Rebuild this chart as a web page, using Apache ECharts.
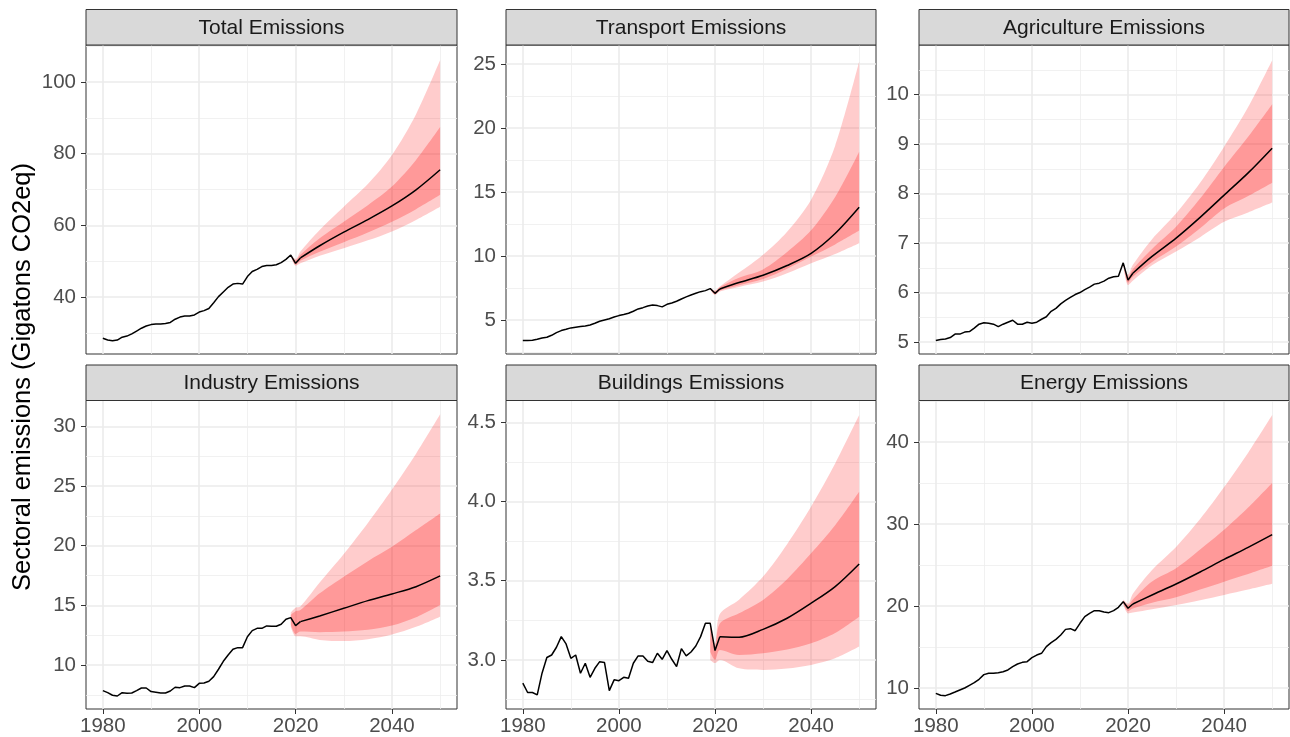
<!DOCTYPE html>
<html>
<head>
<meta charset="utf-8">
<title>Sectoral emissions forecasts</title>
<script src="https://cdn.jsdelivr.net/npm/echarts@6/dist/echarts.min.js"></script>
<style>
  html, body { margin: 0; padding: 0; background: #ffffff; }
  #chart { width: 1290px; height: 737px; }
</style>
</head>
<body>
<div id="chart"></div>
<script>
// ---------------------------------------------------------------------------
// Data: observed series 1980-2021, forecast mean and 80% / 95% intervals
// ---------------------------------------------------------------------------
const HIST_START = 1980;
const FC_YEARS = [2021, 2025, 2030, 2035, 2040, 2045, 2050];
const BAND_YEARS = [2019, 2020, 2021, 2025, 2030, 2035, 2040, 2045, 2050];
const X_TICKS = [1980, 2000, 2020, 2040];
const X_MINOR = [1990, 2010, 2030, 2050];

const PANEL_TITLES = ['Total Emissions', 'Transport Emissions', 'Agriculture Emissions',
                      'Industry Emissions', 'Buildings Emissions', 'Energy Emissions'];
const Y_TITLE = 'Sectoral emissions (Gigatons CO2eq)';

// Total
const totalHist = [28.5, 28.0, 27.8, 28.0, 28.8, 29.1, 29.7, 30.5, 31.3, 31.9,
                   32.3, 32.5, 32.5, 32.6, 32.9, 33.8, 34.4, 34.7, 34.7, 35.0,
                   35.8, 36.2, 36.8, 38.4, 40.1, 41.4, 42.7, 43.6, 43.8, 43.6,
                   45.7, 47.1, 47.7, 48.5, 48.8, 48.8, 49.0, 49.6, 50.5, 51.7,
                   49.4, 50.9];
const totalMean = [50.9, 54.3, 58.1, 61.6, 65.4, 69.9, 75.5];
const totalHi95 = [51.7, 50.6, 52.7, 58.7, 65.2, 71.5, 79.6, 91.0, 106.1];
const totalHi80 = [51.7, 50.2, 51.8, 56.4, 61.0, 65.6, 70.8, 78.2, 87.4];
const totalLo80 = [51.7, 49.0, 50.1, 52.6, 55.3, 58.0, 61.0, 64.5, 68.5];
const totalLo95 = [51.7, 48.7, 49.4, 51.5, 53.6, 55.8, 58.3, 61.5, 65.2];
const totalTicks = [40, 60, 80, 100];
const totalMinor = [30, 50, 70, 90, 110];

// Transport
const transportHist = [3.39, 3.39, 3.41, 3.49, 3.59, 3.65, 3.80, 4.01, 4.17, 4.27,
                       4.38, 4.43, 4.48, 4.53, 4.61, 4.74, 4.90, 5.00, 5.10, 5.23,
                       5.34, 5.42, 5.52, 5.68, 5.86, 5.96, 6.09, 6.17, 6.12, 6.02,
                       6.22, 6.33, 6.46, 6.64, 6.80, 6.95, 7.08, 7.21, 7.29, 7.45,
                       7.08, 7.42];
const transportMean = [7.42, 7.92, 8.49, 9.25, 10.2, 11.75, 13.8];
const transportHi95 = [7.50, 7.30, 7.62, 8.70, 10.10, 11.90, 14.40, 18.6, 25.2];
const transportHi80 = [7.48, 7.22, 7.55, 8.30, 8.95, 10.30, 12.00, 14.6, 18.15];
const transportLo80 = [7.42, 7.00, 7.30, 7.72, 8.20, 9.00, 9.95, 10.9, 11.98];
const transportLo95 = [7.40, 6.95, 7.22, 7.58, 8.00, 8.65, 9.43, 10.15, 10.99];
const transportTicks = [5, 10, 15, 20, 25];
const transportMinor = [2.5, 7.5, 12.5, 17.5, 22.5];

// Agriculture
const agriHist = [5.03, 5.05, 5.06, 5.09, 5.16, 5.16, 5.20, 5.21, 5.28, 5.36,
                  5.39, 5.38, 5.36, 5.31, 5.36, 5.40, 5.44, 5.36, 5.36, 5.40,
                  5.38, 5.40, 5.46, 5.51, 5.62, 5.68, 5.77, 5.84, 5.90, 5.96,
                  6.00, 6.06, 6.11, 6.17, 6.19, 6.23, 6.29, 6.32, 6.33, 6.60,
                  6.25, 6.39];
const agriMean = [6.39, 6.73, 7.10, 7.52, 7.97, 8.42, 8.92];
const agriHi95 = [6.62, 6.36, 6.56, 7.08, 7.60, 8.22, 8.95, 9.75, 10.70];
const agriHi80 = [6.61, 6.31, 6.47, 6.88, 7.33, 7.90, 8.54, 9.15, 9.81];
const agriLo80 = [6.59, 6.20, 6.32, 6.62, 6.93, 7.30, 7.70, 7.95, 8.22];
const agriLo95 = [6.58, 6.15, 6.24, 6.55, 6.83, 7.12, 7.43, 7.62, 7.82];
const agriTicks = [5, 6, 7, 8, 9, 10];
const agriMinor = [5.5, 6.5, 7.5, 8.5, 9.5, 10.5];

// Industry
const industryHist = [7.85, 7.68, 7.46, 7.40, 7.68, 7.63, 7.65, 7.85, 8.07, 8.07,
                      7.77, 7.71, 7.65, 7.65, 7.82, 8.13, 8.10, 8.24, 8.24, 8.10,
                      8.46, 8.49, 8.63, 9.02, 9.64, 10.31, 10.84, 11.31, 11.45, 11.45,
                      12.37, 12.88, 13.07, 13.07, 13.27, 13.24, 13.24, 13.41, 13.83, 13.97,
                      13.30, 13.63];
const industryMean = [13.63, 14.11, 14.75, 15.39, 15.95, 16.56, 17.46];
const industryHi95 = [14.4, 14.8, 14.9, 16.9, 19.3, 21.9, 24.7, 27.7, 31.0];
const industryHi80 = [14.2, 14.5, 14.6, 16.0, 17.4, 18.7, 19.9, 21.3, 22.7];
const industryLo80 = [13.4, 12.6, 12.8, 12.75, 12.8, 12.95, 13.3, 14.0, 15.03];
const industryLo95 = [13.2, 12.4, 12.4, 12.1, 12.0, 12.15, 12.55, 13.2, 14.05];
const industryTicks = [10, 15, 20, 25, 30];
const industryMinor = [7.5, 12.5, 17.5, 22.5, 27.5];

// Buildings
const buildingsHist = [2.853, 2.794, 2.794, 2.779, 2.916, 3.015, 3.031, 3.080, 3.147, 3.101,
                       3.010, 3.031, 2.916, 2.979, 2.890, 2.947, 2.989, 2.983, 2.806, 2.874,
                       2.869, 2.890, 2.884, 2.979, 3.025, 3.025, 2.991, 2.983, 3.042, 3.004,
                       3.059, 3.004, 2.958, 3.071, 3.025, 3.050, 3.088, 3.147, 3.231, 3.231,
                       3.059, 3.147];
const buildingsMean = [3.147, 3.143, 3.193, 3.263, 3.358, 3.463, 3.606];
const buildingsHi95 = [3.25, 3.10, 3.29, 3.38, 3.526, 3.73, 3.968, 4.24, 4.546];
const buildingsHi80 = [3.24, 3.08, 3.23, 3.294, 3.379, 3.51, 3.673, 3.85, 4.062];
const buildingsLo80 = [3.05, 3.00, 3.063, 3.031, 3.042, 3.065, 3.105, 3.17, 3.273];
const buildingsLo95 = [3.00, 2.98, 3.00, 2.947, 2.937, 2.945, 2.968, 3.01, 3.084];
const buildingsTicks = [3.0, 3.5, 4.0, 4.5];
const buildingsMinor = [2.75, 3.25, 3.75, 4.25];

// Energy
const energyHist = [9.35, 9.11, 9.07, 9.27, 9.51, 9.76, 10.0, 10.33, 10.65, 11.06,
                    11.63, 11.79, 11.79, 11.87, 11.99, 12.2, 12.6, 12.93, 13.13, 13.21,
                    13.70, 14.02, 14.23, 15.04, 15.53, 15.93, 16.46, 17.15, 17.24, 16.99,
                    17.89, 18.70, 19.11, 19.43, 19.43, 19.27, 19.19, 19.43, 19.84, 20.53,
                    19.72, 20.24];
const energyMean = [20.24, 21.34, 22.68, 24.15, 25.69, 27.15, 28.70];
const energyHi95 = [20.8, 20.3, 21.5, 24.4, 27.2, 30.6, 34.5, 38.7, 43.3];
const energyHi80 = [20.7, 20.1, 20.8, 23.0, 24.6, 26.9, 29.3, 32.0, 35.0];
const energyLo80 = [20.3, 19.4, 19.7, 20.4, 21.06, 22.0, 22.97, 23.9, 24.9];
const energyLo95 = [20.2, 19.1, 19.2, 19.6, 20.12, 20.7, 21.34, 22.0, 22.7];
const energyTicks = [10, 20, 30, 40];
const energyMinor = [15, 25, 35, 45];

// ---------------------------------------------------------------------------
// Panel layout (pixel boxes of the plotting areas) and axis limits
// ---------------------------------------------------------------------------
const FONT = '"Liberation Sans", Arial, Helvetica, sans-serif';
const X_LIMITS = [1976.5, 2053.5];
const BOXES = [
  [86, 45, 371, 309], [506, 45, 370, 309], [919, 45, 370, 309],
  [86, 400.5, 371, 308.5], [506, 400.5, 370, 308.5], [919, 400.5, 370, 308.5]
];
const STRIP_H = 35.5;

const PANELS = [
  { hist: totalHist, mean: totalMean, hi95: totalHi95, hi80: totalHi80, lo80: totalLo80, lo95: totalLo95,
    ticks: totalTicks, minor: totalMinor, limits: [24.1, 110.3], digits: 0 },
  { hist: transportHist, mean: transportMean, hi95: transportHi95, hi80: transportHi80, lo80: transportLo80, lo95: transportLo95,
    ticks: transportTicks, minor: transportMinor, limits: [2.34, 26.48], digits: 0 },
  { hist: agriHist, mean: agriMean, hi95: agriHi95, hi80: agriHi80, lo80: agriLo80, lo95: agriLo95,
    ticks: agriTicks, minor: agriMinor, limits: [4.757, 11.006], digits: 0 },
  { hist: industryHist, mean: industryMean, hi95: industryHi95, hi80: industryHi80, lo80: industryLo80, lo95: industryLo95,
    ticks: industryTicks, minor: industryMinor, limits: [6.31, 32.16], digits: 0 },
  { hist: buildingsHist, mean: buildingsMean, hi95: buildingsHi95, hi80: buildingsHi80, lo80: buildingsLo80, lo95: buildingsLo95,
    ticks: buildingsTicks, minor: buildingsMinor, limits: [2.69, 4.638], digits: 1 },
  { hist: energyHist, mean: energyMean, hi95: energyHi95, hi80: energyHi80, lo80: energyLo80, lo95: energyLo95,
    ticks: energyTicks, minor: energyMinor, limits: [7.44, 45.06], digits: 0 }
];

const GRID_MAJOR = { color: '#EBEBEB', width: 1.6 };
const GRID_MINOR = { color: '#EDEDED', width: 0.8 };
const LABEL = { color: '#4D4D4D', fontSize: 20.5, fontFamily: FONT };
const SMOOTH = 0.3;

// Pairs [value, year]: the value column comes first so that stacking applies to it.
const pairs = (years, values) => years.map((yr, k) => [values[k], yr]);
const diffs = (years, hi, lo) => years.map((yr, k) => [hi[k] - lo[k], yr]);

const grid = [], xAxis = [], yAxis = [], series = [], graphic = [];

PANELS.forEach((p, i) => {
  const [left, top, width, height] = BOXES[i];
  const bottomRow = i >= 3;

  grid.push({ left, top, width, height, show: true, backgroundColor: '#ffffff',
              borderColor: '#333333', borderWidth: 1 });

  // major x axis
  xAxis.push({
    gridIndex: i, type: 'value', min: X_LIMITS[0], max: X_LIMITS[1], position: 'bottom',
    axisLine: { show: false },
    axisTick: { show: bottomRow, customValues: X_TICKS, length: 5, lineStyle: { color: '#333333', width: 1 } },
    axisLabel: { show: bottomRow, customValues: X_TICKS, margin: 7, ...LABEL,
                 formatter: v => String(v) },
    splitLine: { show: true, lineStyle: GRID_MAJOR }
  });
  // minor x grid
  xAxis.push({
    gridIndex: i, type: 'value', min: X_LIMITS[0], max: X_LIMITS[1], position: 'bottom',
    axisLine: { show: false },
    axisTick: { show: false, customValues: X_MINOR },
    axisLabel: { show: false, customValues: X_MINOR },
    splitLine: { show: true, lineStyle: GRID_MINOR }
  });
  // major y axis
  yAxis.push({
    gridIndex: i, type: 'value', min: p.limits[0], max: p.limits[1], position: 'left',
    axisLine: { show: false },
    axisTick: { show: true, customValues: p.ticks, length: 5, lineStyle: { color: '#333333', width: 1 } },
    axisLabel: { show: true, customValues: p.ticks, margin: 10, ...LABEL,
                 formatter: v => v.toFixed(p.digits) },
    splitLine: { show: true, lineStyle: GRID_MAJOR }
  });
  // minor y grid
  yAxis.push({
    gridIndex: i, type: 'value', min: p.limits[0], max: p.limits[1], position: 'left',
    axisLine: { show: false },
    axisTick: { show: false, customValues: p.minor },
    axisLabel: { show: false, customValues: p.minor },
    splitLine: { show: true, lineStyle: GRID_MINOR }
  });

  const ax = { xAxisIndex: 2 * i, yAxisIndex: 2 * i };
  const enc = { x: 1, y: 0 };
  const band = (name, lo, hi, color) => [
    { type: 'line', name: name + '-base', ...ax, encode: enc, stack: name + i,
      data: pairs(BAND_YEARS, lo), symbol: 'none', smooth: SMOOTH,
      lineStyle: { width: 0, opacity: 0 }, silent: true },
    { type: 'line', name: name, ...ax, encode: enc, stack: name + i,
      data: diffs(BAND_YEARS, hi, lo), symbol: 'none', smooth: SMOOTH,
      lineStyle: { width: 0, opacity: 0 }, areaStyle: { color, opacity: 1 }, silent: true }
  ];
  series.push(...band('pi95', p.lo95, p.hi95, 'rgba(255,0,0,0.2)'));
  series.push(...band('pi80', p.lo80, p.hi80, 'rgba(255,0,0,0.25)'));

  series.push({
    type: 'line', name: 'observed', ...ax, encode: enc,
    data: p.hist.map((v, k) => [v, HIST_START + k]), symbol: 'none',
    lineStyle: { color: '#000000', width: 1.5 }, silent: true
  });
  series.push({
    type: 'line', name: 'forecast', ...ax, encode: enc,
    data: pairs(FC_YEARS, p.mean), symbol: 'none', smooth: SMOOTH,
    lineStyle: { color: '#000000', width: 1.5 }, silent: true
  });

  // facet strip
  graphic.push({
    type: 'rect', shape: { x: left, y: top - STRIP_H, width, height: STRIP_H },
    style: { fill: '#D9D9D9', stroke: '#333333', lineWidth: 1 }, z: 10
  });
  graphic.push({
    type: 'text', x: left + width / 2, y: top - STRIP_H / 2 + 0.5, z: 11,
    style: { text: PANEL_TITLES[i], fill: '#1A1A1A', font: '21px ' + FONT,
             textAlign: 'center', textVerticalAlign: 'middle' }
  });
});

graphic.push({
  type: 'text', x: 23, y: 377, rotation: Math.PI / 2, z: 11,
  style: { text: Y_TITLE, fill: '#000000', font: '25.5px ' + FONT,
           textAlign: 'center', textVerticalAlign: 'middle' }
});

const chart = echarts.init(document.getElementById('chart'), null, { renderer: 'canvas' });
chart.setOption({
  animation: false,
  backgroundColor: '#ffffff',
  grid, xAxis, yAxis, series, graphic
});
</script>
</body>
</html>
